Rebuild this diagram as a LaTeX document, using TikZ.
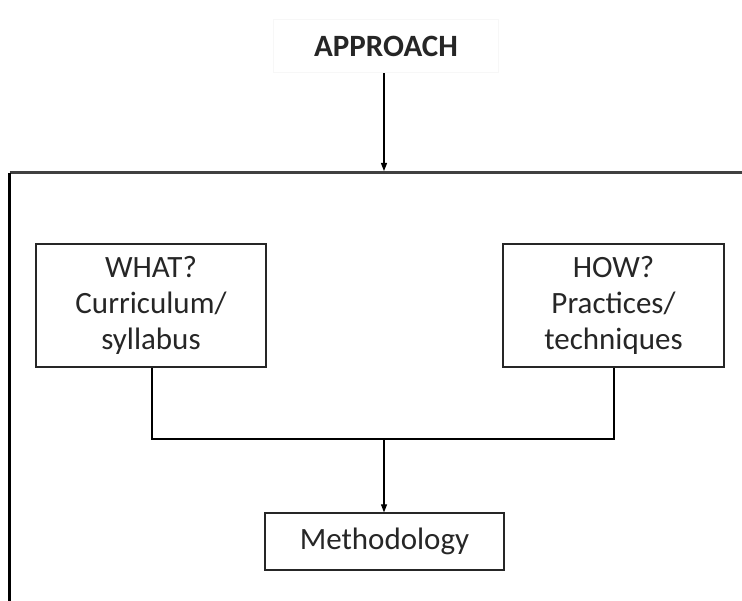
\documentclass[tikz,border=0pt]{standalone}
\usepackage{fontspec}
\setmainfont{Carlito}
\usetikzlibrary{arrows.meta}
\begin{document}
\begin{tikzpicture}[x=1pt,y=-1pt,
  box/.style={draw=black!85, line width=1.3pt, inner sep=0pt, align=center,
    font=\fontsize{31}{36}\selectfont, text=black!85},
  conn/.style={draw=black, line width=1.1pt},
  tip/.style={-{Triangle[length=8pt,width=6pt]}}]
\useasboundingbox (0,0) rectangle (742,601);
\node[draw=black!3, line width=1pt, minimum width=225pt, minimum height=53pt, inner sep=0pt,
  font=\fontsize{31}{36}\selectfont\bfseries, text=black!85] (app) at (386,46.5) {APPROACH};
\coordinate (ftl) at (9.5,173);
\coordinate (fbl) at (9.5,605);
\coordinate (ftr) at (745,173);
\draw[draw=black!75, line width=3pt] (ftl) -- (ftr);
\draw[draw=black, line width=3pt] (fbl) -- (ftl);
\coordinate (ain) at (384,171);
\draw[conn,tip] (app.south -| ain) -- (ain);
\node[box, minimum width=230pt, minimum height=123pt] (what) at (151,305.5) {WHAT?\\Curriculum/\\syllabus};
\node[box, minimum width=221pt, minimum height=123pt] (how) at (613.5,305.5) {HOW?\\Practices/\\techniques};
\node[box, minimum width=239pt, minimum height=57pt] (meth) at (384.5,541.5) {Methodology};
\coordinate (jl) at (152,439);
\coordinate (jr) at (614,439);
\coordinate (jm) at (384,439);
\draw[conn] (what.south -| jl) -- (jl) -- (jr) -- (how.south -| jr);
\draw[conn,tip] (jm) -- (meth.north -| jm);
\end{tikzpicture}
\end{document}
